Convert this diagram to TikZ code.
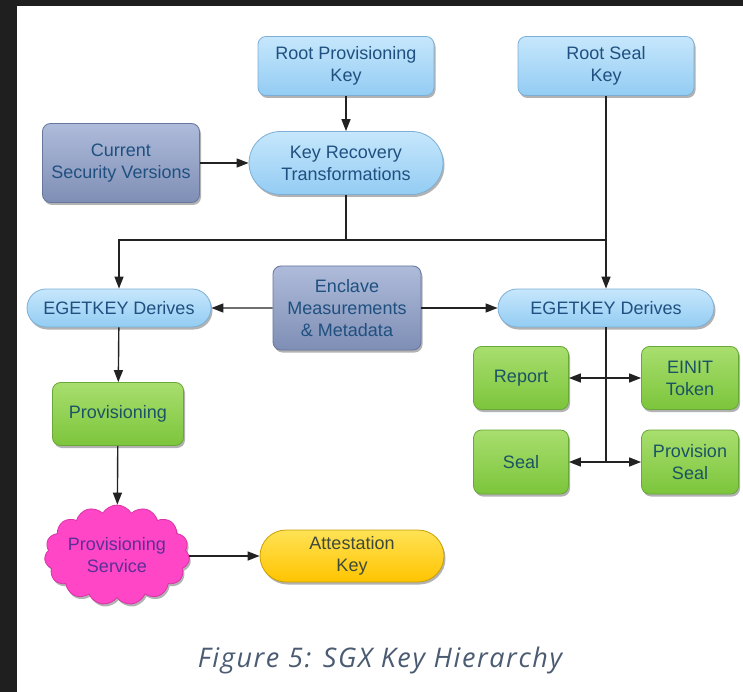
\documentclass[tikz,border=0pt]{standalone}
\usepackage{fontspec}
\setmainfont{Liberation Sans}
\newfontfamily\capfont[LetterSpace=6]{Open Sans}
\usetikzlibrary{shapes.misc,shapes.symbols,shadows,arrows.meta}
\definecolor{darkbg}{HTML}{1F1F1F}
\definecolor{bluetop}{HTML}{C6E7FC}
\definecolor{bluebot}{HTML}{93CCF3}
\definecolor{bluedraw}{HTML}{7DAFD6}
\definecolor{bluetext}{HTML}{1F5080}
\definecolor{graytop}{HTML}{AEBBDA}
\definecolor{graybot}{HTML}{7F8EB5}
\definecolor{graydraw}{HTML}{66769C}
\definecolor{greentop}{HTML}{A8DE6E}
\definecolor{greenbot}{HTML}{7CC53B}
\definecolor{greendraw}{HTML}{67A838}
\definecolor{greentext}{HTML}{1A5464}
\definecolor{pinkfill}{HTML}{FF46C6}
\definecolor{pinkdraw}{HTML}{D834A8}
\definecolor{pinktext}{HTML}{5C2F96}
\definecolor{yeltop}{HTML}{FFE255}
\definecolor{yelbot}{HTML}{FFC400}
\definecolor{yeldraw}{HTML}{C9A000}
\definecolor{yeltext}{HTML}{3D4A3A}
\definecolor{linecol}{HTML}{222222}
\definecolor{capcol}{HTML}{4A5B72}
\begin{document}
\begin{tikzpicture}[x=1pt,y=-1pt,
  shad/.style={drop shadow={shadow xshift=1.5pt,shadow yshift=-2.5pt,opacity=0.3,fill=black}},
  box/.style={rectangle, rounded corners=8pt, line width=0.8pt, align=center, inner sep=2pt,
    font=\fontsize{18}{22}\selectfont, shad},
  pill/.style={rounded rectangle, line width=0.8pt, align=center, inner sep=2pt,
    font=\fontsize{18}{22}\selectfont, shad},
  bluec/.style={draw=bluedraw, top color=bluetop, bottom color=bluebot, text=bluetext},
  grayc/.style={draw=graydraw, top color=graytop, bottom color=graybot, text=bluetext},
  greenc/.style={draw=greendraw, top color=greentop, bottom color=greenbot, text=greentext},
  yelc/.style={draw=yeldraw, top color=yeltop, bottom color=yelbot, text=yeltext},
  arr/.style={-{Triangle[length=12pt,width=9pt]}, line width=1.4pt, draw=linecol},
  ln/.style={line width=1.4pt, draw=linecol}]
\useasboundingbox (0,0) rectangle (743,692);
\fill[white] (0,0) rectangle (743,692);
\fill[darkbg] (0,0) rectangle (743,6);
\fill[darkbg] (0,0) rectangle (17,692);

\node[box,bluec,minimum width=176pt,minimum height=59pt] (rpk) at (346,66) {Root Provisioning\\Key};
\node[box,bluec,minimum width=176pt,minimum height=59pt] (rsk) at (606,66) {Root Seal\\Key};
\node[box,grayc,minimum width=157pt,minimum height=79pt] (csv) at (121,163) {Current\\Security Versions};
\node[pill,bluec,minimum width=198pt,minimum height=63pt] (krt) at (346,163) {Key Recovery\\Transformations};
\node[pill,bluec,minimum width=188pt,minimum height=38pt] (egl) at (119,308) {EGETKEY Derives};
\node[box,grayc,minimum width=148pt,minimum height=84pt] (enc) at (347,308) {Enclave\\Measurements\\\& Metadata};
\node[pill,bluec,minimum width=220pt,minimum height=38pt] (egr) at (606,308) {EGETKEY Derives};
\node[box,greenc,minimum width=95pt,minimum height=63pt] (rep) at (521,378) {Report};
\node[box,greenc,minimum width=97pt,minimum height=63pt] (ein) at (690,378) {EINIT\\Token};
\node[box,greenc,minimum width=95pt,minimum height=64pt] (seal) at (521,462) {Seal};
\node[box,greenc,minimum width=97pt,minimum height=64pt] (pseal) at (690,462) {Provision\\Seal};
\node[box,greenc,minimum width=131pt,minimum height=63pt] (prov) at (118,414) {Provisioning};
\node[cloud, cloud puffs=15, cloud puff arc=120, cloud ignores aspect, minimum width=145pt, minimum height=100pt,
  draw=pinkdraw, fill=pinkfill, line width=0.8pt, text=pinktext, align=center, inner sep=0pt,
  font=\fontsize{18}{22}\selectfont, shad] (ps) at (117,555) {Provisioning\\Service};
\node[pill,yelc,minimum width=188pt,minimum height=52pt] (att) at (352,556) {Attestation\\Key};

\coordinate (jl) at (119,240);
\coordinate (jr) at (606,240);
\coordinate (j1) at (606,378);
\coordinate (j2) at (606,462);

\draw[arr] (rpk) -- (krt);
\draw[arr] (csv) -- (krt);
\draw[ln] (krt.south) -- (krt.south|-jl);
\draw[ln] (krt.south|-jl) -- (jr);
\draw[arr] (krt.south|-jl) -- (jl) -- (egl);
\draw[arr] (rsk) -- (egr);
\draw[arr] (enc) -- (egl);
\draw[arr] (enc) -- (egr);
\draw[ln] (egr.south) -- (j2);
\draw[arr] (j1) -- (rep);
\draw[arr] (j1) -- (ein);
\draw[arr] (j2) -- (seal);
\draw[arr] (j2) -- (pseal);
\draw[arr] (egl) -- (prov);
\draw[arr] (prov) -- (ps);
\draw[arr] (ps.east|-att) -- (att);

\node[font=\capfont\itshape\fontsize{27}{32}\selectfont, text=capcol] (cap) at (380,660) {Figure 5: SGX Key Hierarchy};
\end{tikzpicture}
\end{document}
